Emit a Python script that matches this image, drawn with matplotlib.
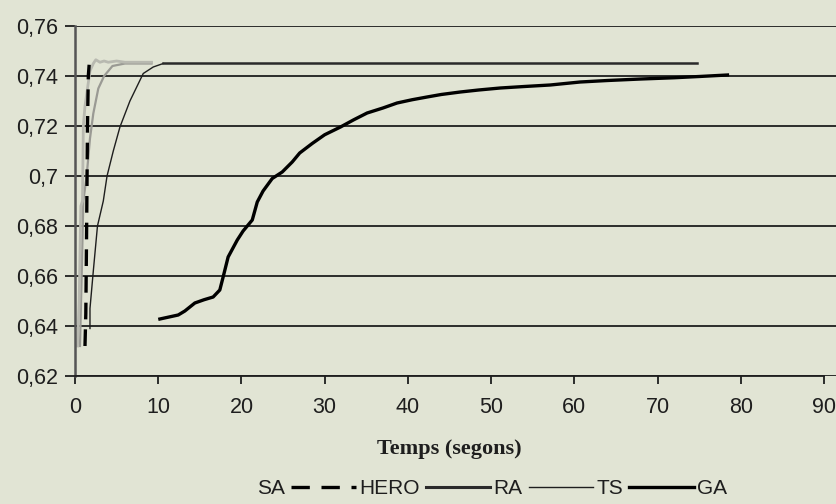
import matplotlib.pyplot as plt
from matplotlib.lines import Line2D
from matplotlib.ticker import FuncFormatter

# Dades (temps en segons, valor de la funcio objectiu)
sa_t = [0.3, 0.5, 0.7, 0.9, 1.0, 1.2, 1.5, 1.8, 2.2, 2.5, 3.0, 3.5, 4.0, 5.0, 6.0, 9.2]
sa_y = [0.632, 0.650, 0.688, 0.690, 0.720, 0.728, 0.735, 0.742, 0.745, 0.7465,
        0.7455, 0.746, 0.7455, 0.746, 0.7455, 0.7455]

gris_t = [0.6, 0.8, 1.0, 1.4, 1.8, 2.2, 2.8, 3.5, 4.5, 6.0, 9.2]
gris_y = [0.632, 0.660, 0.690, 0.700, 0.715, 0.725, 0.735, 0.740, 0.744, 0.745, 0.745]

hero_t = [1.2, 1.3, 1.4, 1.5, 1.6, 1.7]
hero_y = [0.632, 0.645, 0.680, 0.720, 0.740, 0.7445]

ra_t = [10.6, 74.7]
ra_y = [0.745, 0.745]

ts_t = [1.8, 1.8, 2.2, 2.7, 3.4, 3.85, 4.6, 5.4, 6.6, 8.2, 9.4, 10.6]
ts_y = [0.639, 0.647, 0.662, 0.680, 0.690, 0.700, 0.710, 0.7196, 0.730, 0.741, 0.7436, 0.745]

ga_t = [10.2, 12.4, 13.2, 14.4, 15.5, 16.6, 17.4, 17.8, 18.4, 19.5, 20.2, 21.3, 21.9,
        22.6, 23.7, 24.9, 26.1, 27.0, 28.5, 30, 31.9, 33.5, 35.1, 37, 38.7, 40.5,
        42.3, 44, 46.3, 48.5, 51.1, 54, 57.1, 60.7, 64, 68, 72, 75, 78.4]
ga_y = [.6428, .6444, .6460, .6492, .6505, .6516, .6544, .6596, .6676, .6744, .678,
        .6824, .6896, .694, .699, .7016, .7056, .7092, .7130, .7165, .7196, .7225,
        .7252, .7272, .7292, .7305, .7316, .7326, .7336, .7344, .7352, .7358, .7364,
        .7376, .7382, .7388, .7393, .7398, .7404]

x_ticks = list(range(0, 100, 10))
y_ticks = [0.62, 0.64, 0.66, 0.68, 0.70, 0.72, 0.74, 0.76]

bg = '#e1e4d4'
fosc = '#1e1e1e'
plt.rcParams['font.family'] = 'Liberation Sans'

fig = plt.figure(figsize=(8.36, 5.04), dpi=100, facecolor=bg)
ax = fig.add_axes([75 / 836, 1 - 376 / 504, 1 - 75 / 836, 350 / 504], facecolor=bg)

ax.plot(gris_t, gris_y, color='#9a9a94', lw=1.6)
ax.plot(sa_t, sa_y, color='#b8b9b0', lw=2.0)
ax.plot(ts_t, ts_y, color=fosc, lw=1.0)
ax.plot(ra_t, ra_y, color='#2a2a2a', lw=1.8)
ax.plot(hero_t, hero_y, color='black', lw=2.4, ls=(0, (5, 3)))
ax.plot(ga_t, ga_y, color='black', lw=2.4)

ax.set_xlim(0, 90 * (836 - 75) / (824 - 75))
ax.set_ylim(0.62, 0.76)
ax.set_xticks(x_ticks)
ax.set_yticks(y_ticks)
ax.yaxis.set_major_formatter(FuncFormatter(lambda v, p: f'{v:.2f}'.rstrip('0').replace('.', ',')))
ax.tick_params(axis='y', length=7, width=1.3, color=fosc, labelsize=15.5, labelcolor=fosc, pad=5)
ax.tick_params(axis='x', length=6, width=1.3, color=fosc, labelsize=15.5, labelcolor=fosc, pad=9)
ax.yaxis.grid(True, color=fosc, lw=1.3)
ax.set_axisbelow(True)

for s in ['top', 'right']:
    ax.spines[s].set_visible(False)
ax.spines['bottom'].set_bounds(0, 90)
ax.spines['bottom'].set_color(fosc)
ax.spines['bottom'].set_linewidth(1.3)
ax.spines['left'].set_color('#555555')
ax.spines['left'].set_linewidth(1.8)

ax.set_xlabel('Temps (segons)', family='Liberation Serif', fontweight='bold',
              fontsize=16, color=fosc, labelpad=15)
ax.xaxis.label.set_position((0.5 - (836 - 824) / 2 / 761, 0))

handles = [
    Line2D([], [], ls='none'),
    Line2D([], [], color='black', lw=2.4, ls=(0, (5.5, 3.5))),
    Line2D([], [], color='#2a2a2a', lw=2.2),
    Line2D([], [], color=fosc, lw=1.0),
    Line2D([], [], color='black', lw=2.4),
]
labels = ['SA', 'HERO', 'RA', 'TS', 'GA']
fig.legend(handles, labels, loc='center', bbox_to_anchor=(0.548, 0.031), ncol=5,
           frameon=False, fontsize=15, handlelength=3.1, handletextpad=0.15,
           columnspacing=0.3, labelcolor=fosc)

plt.savefig('out.png', dpi=100, facecolor=bg)
